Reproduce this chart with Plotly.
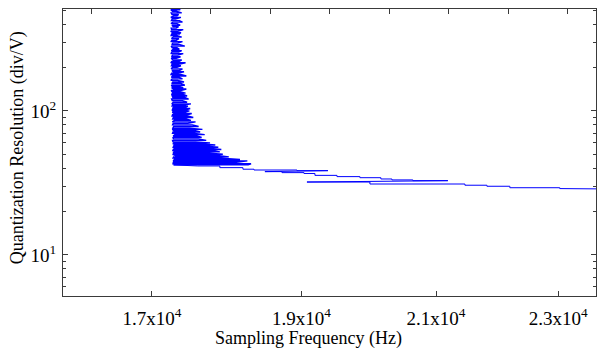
import plotly.graph_objects as go

# ---- data ----
# dense band: one sweep per resolution level, between a low and a high frequency
band_res = [520, 505, 492, 480, 468, 457, 446, 435, 424, 414,
            404, 394, 385, 376, 367, 358, 350, 342, 334, 326,
            318, 310, 303, 296, 289, 282, 275, 268, 262, 256,
            250, 244, 238, 232, 226, 221, 216, 211, 206, 201,
            196, 191, 187, 183, 179, 175, 171, 167, 163, 159,
            155, 151, 148, 145, 142, 139, 136, 133, 130, 127,
            124, 121, 118, 115, 112, 110, 108, 106, 104, 102,
            100, 98, 96, 94, 92, 90, 88, 86, 84, 82,
            80, 78, 76, 74.5, 73, 71.5, 70, 68.5, 67, 65.5,
            64, 62.5, 61, 60, 59, 58, 57, 56, 55, 54,
            53, 52, 51, 50, 49, 48, 47, 46, 45, 44,
            43, 42.2]
band_lo = [17250, 17240, 17262, 17245, 17255, 17275, 17240, 17258, 17248, 17266,
           17242, 17255, 17270, 17245, 17250, 17238, 17262, 17250, 17244, 17272,
           17248, 17256, 17240, 17265, 17252, 17244, 17258, 17270, 17246, 17254,
           17240, 17262, 17250, 17245, 17268, 17252, 17240, 17256, 17248, 17262,
           17244, 17255, 17270, 17250, 17242, 17260, 17248, 17256, 17240, 17265,
           17252, 17246, 17260, 17250, 17272, 17244, 17256, 17262, 17248, 17258,
           17266, 17250, 17258, 17270, 17252, 17262, 17256, 17275, 17260, 17254,
           17268, 17258, 17280, 17262, 17256, 17272, 17264, 17285, 17260, 17270,
           17262, 17276, 17266, 17258, 17280, 17268, 17262, 17290, 17270, 17264,
           17275, 17262, 17268, 17280, 17266, 17300, 17270, 17262, 17290, 17272,
           17266, 17280, 17270, 17262, 17300, 17275, 17268, 17285, 17270, 17272,
           17268, 17275]
band_hi = [17330, 17360, 17310, 17380, 17340, 17320, 17370, 17300, 17350, 17390,
           17320, 17360, 17340, 17310, 17400, 17330, 17370, 17350, 17315, 17380,
           17345, 17310, 17390, 17330, 17360, 17420, 17320, 17350, 17380, 17340,
           17400, 17330, 17365, 17310, 17380, 17350, 17430, 17340, 17370, 17320,
           17390, 17350, 17410, 17335, 17370, 17440, 17350, 17390, 17330, 17410,
           17370, 17420, 17350, 17400, 17440, 17380, 17360, 17430, 17400, 17450,
           17420, 17470, 17390, 17450, 17500, 17410, 17460, 17430, 17490, 17440,
           17480, 17420, 17510, 17450, 17470, 17530, 17440, 17500, 17560, 17460,
           17520, 17600, 17480, 17650, 17560, 17620, 17520, 17680, 17580, 17640,
           17600, 17700, 17560, 17750, 17650, 17820, 17700, 17860, 17760, 17900,
           17800, 17880, 17700, 17920, 17850, 18000, 17900, 18150, 18250, 18100,
           18300, 18260]

# low-resolution tail (rungs of the staircase, in drawing order)
tail_freq = [17590, 17880, 17880, 18190, 18190, 18340, 18340, 18936, 18936, 19378,
             18490, 18726, 18726, 19035, 19035, 19191, 19191, 19508, 19508, 19844,
             19844, 20156, 20156, 20322, 20322, 20641, 20641, 21186, 19077, 19992,
             19992, 21456, 21456, 21810, 21810, 22185, 22185, 23025, 23025, 23370,
             23370, 24000]
tail_res = [41.5, 41.5, 40.4, 40.4, 39.4, 39.4, 38.9, 38.9, 38.5, 38.5,
            37.9, 37.9, 37.3, 37.3, 36.8, 36.8, 35.7, 35.7, 35.0, 35.0,
            34.4, 34.4, 33.7, 33.7, 33.2, 33.2, 32.8, 32.8, 32.1, 32.1,
            31.1, 31.1, 30.5, 30.5, 30.0, 30.0, 29.3, 29.3, 28.9, 28.9,
            28.7, 28.7]

x_tickvals = [17000, 19000, 21000, 23000]
x_ticktext = ["1.7x10<sup>4</sup>", "1.9x10<sup>4</sup>", "2.1x10<sup>4</sup>", "2.3x10<sup>4</sup>"]
y_tickvals = [10, 100]
y_ticktext = ["10<sup>1</sup>", "10<sup>2</sup>"]
y_minor = [6, 7, 8, 9, 20, 30, 40, 50, 60, 70, 80, 90, 200, 300, 400, 500]

# band polyline: sweep each level alternately left->right / right->left
band_x, band_y = [], []
for i, (r, lo, hi) in enumerate(zip(band_res, band_lo, band_hi)):
    pair = (lo, hi) if i % 2 == 0 else (hi, lo)
    band_x += list(pair)
    band_y += [r, r]
# tail continues from the band's last point
tail_x = [band_x[-1]] + tail_freq
tail_y = [band_y[-1]] + tail_res

FONT = "Liberation Serif"
FRAME = "#3a3a3a"

fig = go.Figure()
fig.add_trace(go.Scatter(x=band_x, y=band_y, mode="lines",
                         line=dict(color="#0000ff", width=1.4), showlegend=False,
                         hoverinfo="skip"))
fig.add_trace(go.Scatter(x=tail_x, y=tail_y, mode="lines",
                         line=dict(color="#0000ff", width=1), showlegend=False,
                         hoverinfo="skip"))
fig.add_trace(go.Scatter(x=[0, 533], y=[None, None], xaxis="x2", mode="lines",
                         showlegend=False, hoverinfo="skip"))

fig.update_layout(
    width=597, height=349,
    margin=dict(l=63, r=1, t=9, b=53),
    paper_bgcolor="white", plot_bgcolor="white",
    font=dict(family=FONT, size=16, color="black"),
    xaxis=dict(
        type="log", range=[4.2017, 4.3739], automargin=False,
        tickvals=x_tickvals, ticktext=x_ticktext,
        ticks="inside", ticklen=5, tickcolor=FRAME,
        showline=True, linecolor=FRAME, linewidth=1, mirror=True,
        showgrid=False, zeroline=False,
        tickfont=dict(family=FONT, size=19),
        ticklabelstandoff=5,
    ),
    xaxis2=dict(
        overlaying="x", side="top", range=[0, 533], automargin=False,
        tick0=28.7, dtick=59.5, ticks="inside", ticklen=5, tickcolor=FRAME,
        showticklabels=False, showgrid=False, zeroline=False, showline=False,
    ),
    yaxis=dict(
        type="log", range=[0.715, 2.708], automargin=False,
        tickvals=y_tickvals, ticktext=y_ticktext,
        ticks="inside", ticklen=5, tickcolor=FRAME,
        minor=dict(tickvals=y_minor, ticks="inside", ticklen=3, tickcolor=FRAME),
        showline=True, linecolor=FRAME, linewidth=1, mirror="ticks",
        showgrid=False, zeroline=False,
        tickfont=dict(family=FONT, size=19),
        ticklabelstandoff=2,
    ),
    annotations=[
        dict(text="Sampling Frequency (Hz)", xref="paper", yref="paper",
             x=0.46, y=-0.147, xanchor="center", yanchor="middle", showarrow=False,
             font=dict(family=FONT, size=18)),
        dict(text="Quantization Resolution (div/V)", xref="paper", yref="paper",
             x=-0.084, y=0.516, xanchor="center", yanchor="middle", showarrow=False,
             textangle=-90, font=dict(family=FONT, size=18)),
    ],
)

fig.write_html("out.html", config={"displayModeBar": False},
               post_script="document.body.style.margin='0';document.body.style.padding='0';")
